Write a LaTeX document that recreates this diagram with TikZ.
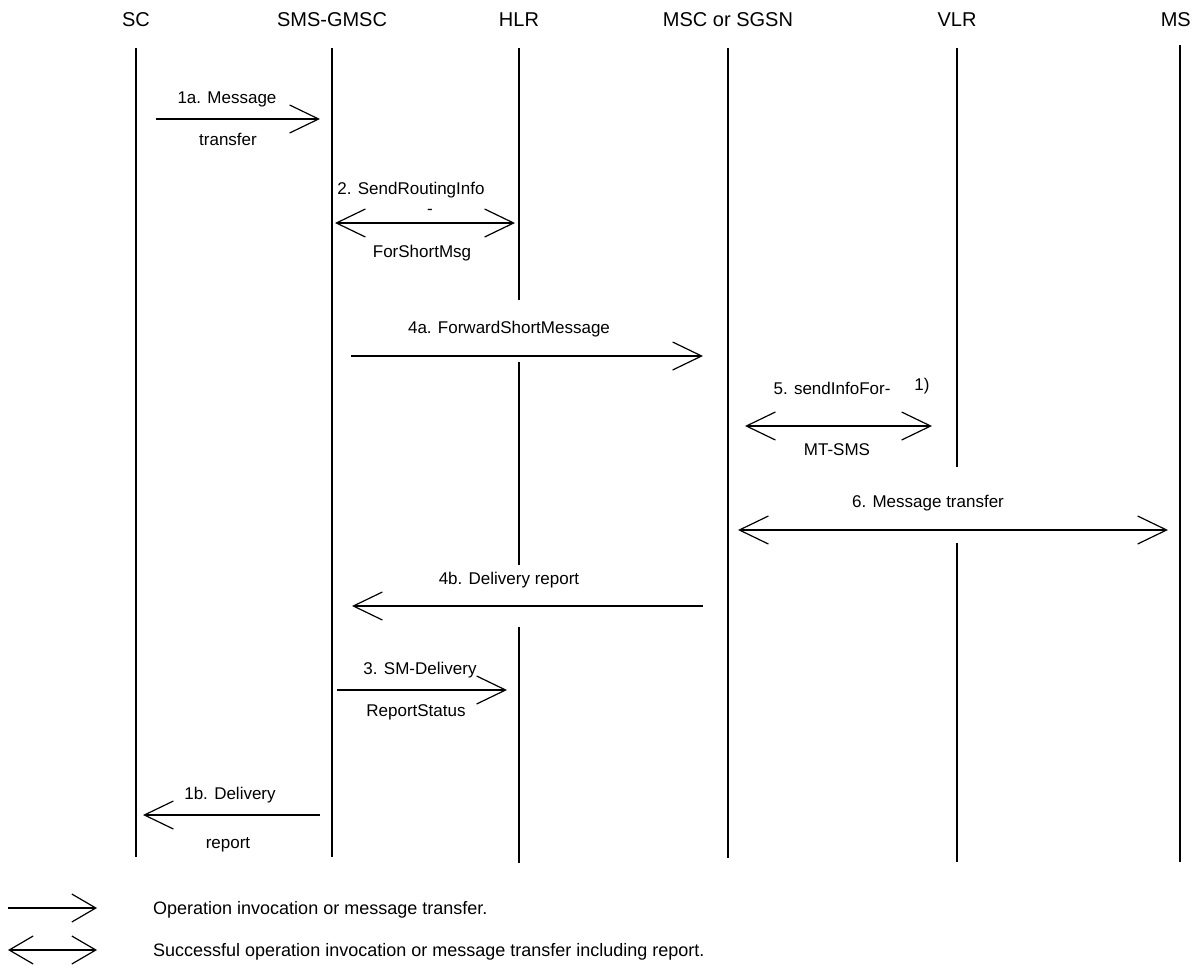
\documentclass[tikz,border=0pt]{standalone}
\usepackage{fontspec}
\setmainfont{Liberation Sans}
\usetikzlibrary{arrows.meta}

\begin{document}
\begin{tikzpicture}[x=1pt,y=-1pt,
  every node/.style={inner sep=0pt,anchor=base,font=\fontsize{17}{20}\selectfont},
  head/.style={font=\fontsize{20}{23}\selectfont},
  key/.style={anchor=base west,font=\fontsize{18}{21}\selectfont},
  life/.style={line width=1.4pt},
  barb/.tip={Straight Barb[length=29pt,width=28pt,line width=1.2pt]},
  kbarb/.tip={Straight Barb[length=24pt,width=28pt,line width=1.2pt]},
  msg/.style={line width=1.4pt,-barb},
  dmsg/.style={line width=1.4pt,barb-barb}]
\useasboundingbox (0,0) rectangle (1192,970);
% entities
\node[head] (sc) at (136,26) {SC};
\node[head] (gmsc) at (332,26) {SMS-GMSC};
\node[head] (hlr) at (519,26) {HLR};
\node[head] (msc) at (728,26) {MSC or SGSN};
\node[head] (vlr) at (957,26) {VLR};
\coordinate (ms) at (1180,26);
\node[head,anchor=base east] (mst) at (1191,26) {MS};
% life lines
\foreach \n/\a/\b in {sc/48/857, gmsc/48/857, hlr/48/300, hlr/362/565, hlr/627/863,
  msc/48/858, vlr/48/467, vlr/543/862, ms/45/862}
  \draw[life] (\n |- 0,\a) -- (\n |- 0,\b);
% message end points
\coordinate (m1a-s) at (156,119); \coordinate (m1a-e) at (320,119);
\coordinate (m2-s) at (335,223); \coordinate (m2-e) at (515,223);
\coordinate (m4a-s) at (351,356); \coordinate (m4a-e) at (703,356);
\coordinate (m5-s) at (745,426); \coordinate (m5-e) at (932,426);
\coordinate (m6-s) at (738,530); \coordinate (m6-e) at (1168,530);
\coordinate (m4b-s) at (703,606); \coordinate (m4b-e) at (352,606);
\coordinate (m3-s) at (337,690); \coordinate (m3-e) at (507,690);
\coordinate (m1b-s) at (320,815); \coordinate (m1b-e) at (143,815);
% messages
\draw[msg] (m1a-s) -- (m1a-e);
\node (t1a) at (227,103) {1a. Message};
\node (b1a) at (228,145) {transfer};
\draw[dmsg] (m2-s) -- (m2-e);
\node (t2) at (411,194) {2. SendRoutingInfo};
\node (d2) at (430,214) {-};
\node (b2) at (422,257) {ForShortMsg};
\draw[msg] (m4a-s) -- (m4a-e);
\node (t4a) at (509,333) {4a. ForwardShortMessage};
\draw[dmsg] (m5-s) -- (m5-e);
\node (t5) at (832,394) {5. sendInfoFor-};
\node (n5) at (922,390) {1)};
\node (b5) at (837,455) {MT-SMS};
\draw[dmsg] (m6-s) -- (m6-e);
\node (t6) at (928,507) {6. Message transfer};
\draw[msg] (m4b-s) -- (m4b-e);
\node (t4b) at (509,584) {4b. Delivery report};
\draw[msg] (m3-s) -- (m3-e);
\node (t3) at (420,674) {3. SM-Delivery};
\node (b3) at (416,716) {ReportStatus};
\draw[msg] (m1b-s) -- (m1b-e);
\node (t1b) at (230,799) {1b. Delivery};
\node (b1b) at (228,848) {report};
% legend
\coordinate (k1-s) at (8,908); \coordinate (k1-e) at (97,908);
\coordinate (k2-s) at (8,950); \coordinate (k2-e) at (97,950);
\draw[line width=1.4pt,-kbarb] (k1-s) -- (k1-e);
\draw[line width=1.4pt,kbarb-kbarb] (k2-s) -- (k2-e);
\node[key] (k1) at (153,914) {Operation invocation or message transfer.};
\node[key] (k2) at (153,956) {Successful operation invocation or message transfer including report.};
\end{tikzpicture}
\end{document}
